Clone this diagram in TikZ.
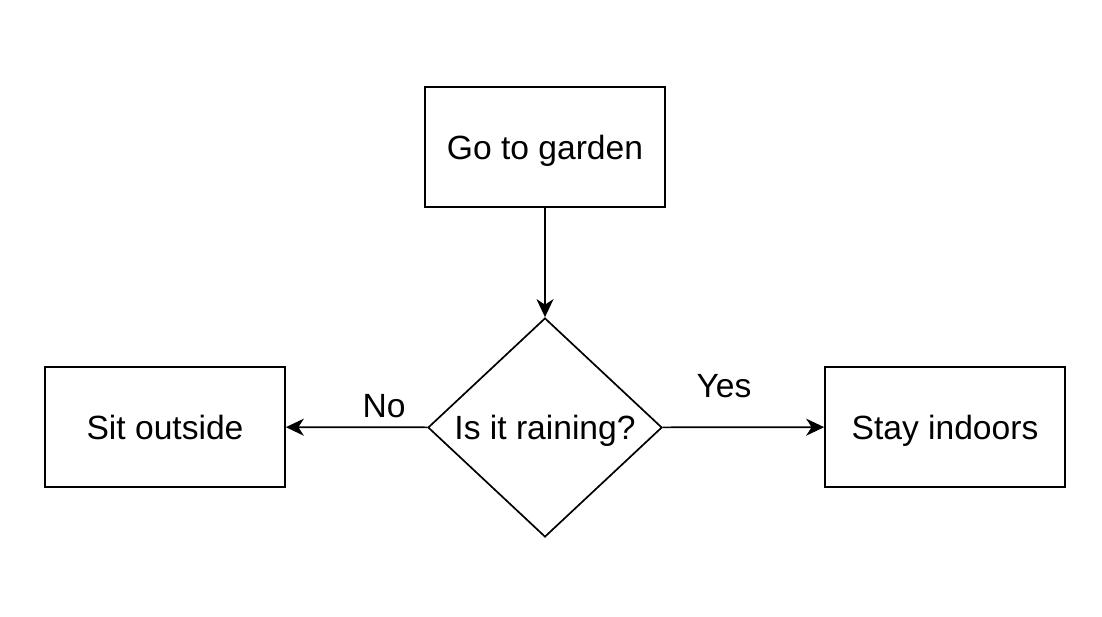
\documentclass[tikz,border=0pt]{standalone}
\usepackage{fontspec}
\setmainfont{Liberation Sans}
\usetikzlibrary{shapes.geometric,arrows.meta}
\begin{document}
\begin{tikzpicture}[x=1pt,y=-1pt,
  every node/.style={font=\fontsize{33.6}{40}\selectfont,text height=24pt,text depth=0pt},
  box/.style={draw,line width=1.7pt,minimum width=240pt,minimum height=120pt,inner sep=0pt},
  decision/.style={draw,diamond,line width=1.7pt,minimum width=234pt,minimum height=219pt,inner sep=0pt},
  conn/.style={line width=1.7pt,-{Stealth[length=18pt,width=17pt,inset=5.5pt]}},
  lbl/.style={inner sep=0pt}]
\useasboundingbox (0,0) rectangle (1102,616);
\node[box] (garden) at (545,147) {Go to garden};
\node[decision] (rain) at (545,427.5) {Is it raining?};
\node[box] (sit) at (165,427) {Sit outside};
\node[box] (stay) at (945,427) {Stay indoors};
\draw[conn] (garden) -- (rain);
\draw[conn] (rain) -- (sit);
\draw[conn] (rain) -- (stay);
\node[lbl] (no) at (384,405) {No};
\node[lbl] (yes) at (724,385) {Yes};
\end{tikzpicture}
\end{document}
